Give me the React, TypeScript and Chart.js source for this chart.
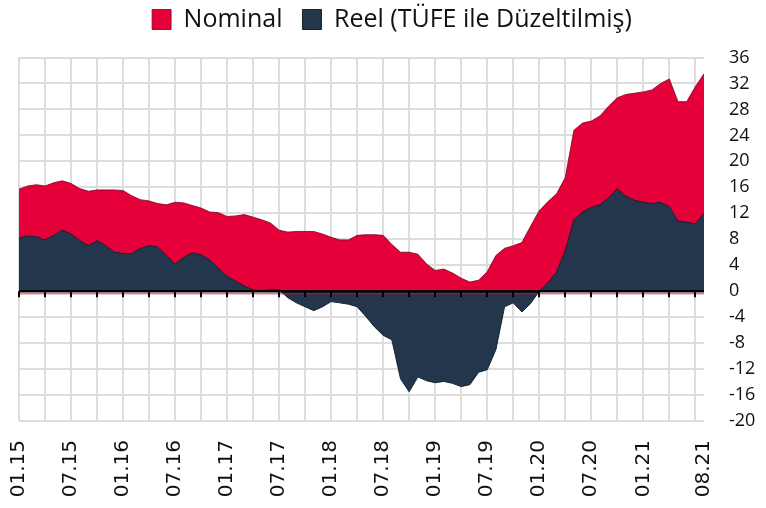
import React, { useEffect, useRef } from "react";
import { Chart, registerables } from "chart.js";

Chart.register(...registerables);

const years = ["15", "16", "17", "18", "19", "20", "21"];
const months = ["01", "02", "03", "04", "05", "06", "07", "08", "09", "10", "11", "12"];
const categories: string[] = [];
for (const yy of years) {
  for (const mm of months) {
    if (yy === "21" && Number(mm) > 8) break;
    categories.push(`${mm}.${yy}`);
  }
}

const nominal = [
  15.7, 16.2, 16.4, 16.2, 16.7, 17.0, 16.6, 15.8, 15.4, 15.6, 15.6, 15.6,
  15.5, 14.7, 14.1, 13.9, 13.5, 13.3, 13.7, 13.6, 13.2, 12.8, 12.2, 12.1,
  11.5, 11.6, 11.8, 11.4, 11.0, 10.5, 9.4, 9.1, 9.2, 9.2, 9.2, 8.8,
  8.3, 7.9, 7.9, 8.6, 8.7, 8.7, 8.6, 7.2, 6.0, 6.0, 5.7, 4.2,
  3.2, 3.4, 2.8, 2.0, 1.4, 1.7, 3.0, 5.5, 6.6, 7.0, 7.5, 10.0,
  12.4, 13.8, 15.0, 17.5, 24.8, 25.9, 26.2, 27.0, 28.5, 29.8, 30.3, 30.5,
  30.7, 31.0, 32.0, 32.7, 29.2, 29.2, 31.5, 33.5,
];

const reel = [
  8.2, 8.5, 8.4, 7.9, 8.6, 9.4, 8.8, 7.8, 7.0, 7.8, 7.0, 6.0,
  5.8, 5.8, 6.6, 7.0, 6.8, 5.5, 4.2, 5.2, 5.9, 5.6, 4.8, 3.5,
  2.3, 1.5, 0.8, 0.2, 0.1, 0.2, 0.2, -1.0, -1.8, -2.4, -3.0, -2.4,
  -1.6, -1.8, -2.0, -2.4, -3.9, -5.5, -6.8, -7.5, -13.5, -15.5, -13.2, -13.8,
  -14.1, -13.9, -14.2, -14.7, -14.4, -12.5, -12.1, -9.0, -2.4, -1.8, -3.2, -1.9,
  0.0, 1.3, 3.0, 6.3, 11.0, 12.2, 12.9, 13.3, 14.4, 15.8, 14.6, 14.0,
  13.7, 13.5, 13.7, 13.0, 10.8, 10.6, 10.4, 12.0,
];

const seriesNames = ["Nominal", "Reel (TÜFE ile Düzeltilmiş)"];
const yMin = -20;
const yMax = 36;
const yStep = 4;

const RED = "#e5003a";
const NAVY = "#23364b";

const zeroLinePlugin = {
  id: "zeroLine",
  afterDatasetsDraw(chart: any) {
    const { ctx, chartArea, scales } = chart;
    const x = scales.x;
    const y = scales.y;
    const y0 = y.getPixelForValue(0);
    ctx.save();
    ctx.strokeStyle = "rgba(229,0,58,0.55)";
    ctx.lineWidth = 1.5;
    ctx.beginPath();
    ctx.moveTo(chartArea.left, y0 + 2.5);
    ctx.lineTo(chartArea.right, y0 + 2.5);
    ctx.stroke();
    ctx.strokeStyle = "#000";
    ctx.lineWidth = 2.5;
    ctx.beginPath();
    ctx.moveTo(chartArea.left, y0);
    ctx.lineTo(chartArea.right, y0);
    ctx.stroke();
    ctx.lineWidth = 2;
    for (let i = 0; i < categories.length; i += 3) {
      const px = Math.round(x.getPixelForValue(i));
      ctx.beginPath();
      ctx.moveTo(px, y0);
      ctx.lineTo(px, y0 + 6);
      ctx.stroke();
    }
    ctx.restore();
  },
};

export default function App() {
  const canvasRef = useRef<HTMLCanvasElement | null>(null);

  useEffect(() => {
    if (!canvasRef.current) return;
    const chart = new Chart(canvasRef.current, {
      type: "line",
      data: {
        labels: categories,
        datasets: [
          {
            label: seriesNames[0],
            data: nominal,
            backgroundColor: RED,
            borderColor: "rgba(120,0,30,0.8)",
            borderWidth: 1,
            fill: "origin",
            pointRadius: 0,
            tension: 0,
            order: 1,
          },
          {
            label: seriesNames[1],
            data: reel,
            backgroundColor: NAVY,
            borderColor: "#16242f",
            borderWidth: 1,
            fill: "origin",
            pointRadius: 0,
            tension: 0,
            order: 0,
          },
        ],
      },
      options: {
        responsive: false,
        animation: false,
        layout: { padding: { left: 18, right: 0, top: -13, bottom: 0 } },
        plugins: {
          tooltip: { enabled: false },
          legend: {
            display: true,
            position: "top",
            labels: {
              boxWidth: 19,
              boxHeight: 20,
              padding: 20,
              color: "#111",
              font: { family: "'Open Sans'", size: 25 },
              sort: (a: any, b: any) => a.datasetIndex - b.datasetIndex,
            },
          },
        },
        scales: {
          x: {
            type: "category",
            offset: false,
            border: { display: false },
            grid: {
              drawTicks: false,
              lineWidth: 2,
              color: (ctx: any) => (ctx.index % 3 === 0 ? "#dcdcdc" : "rgba(0,0,0,0)"),
            },
            ticks: {
              autoSkip: false,
              minRotation: 90,
              maxRotation: 90,
              padding: 19,
              color: "#111",
              font: { family: "'DejaVu Sans'", size: 20 },
              callback: (_v: any, idx: number) =>
                (idx % 6 === 0 && idx <= 72) || idx === categories.length - 1 ? categories[idx] : "",
            },
            afterFit: (s: any) => {
              s.height = 87;
            },
          },
          xTop: {
            type: "category",
            position: "top",
            display: true,
            border: { display: false },
            grid: { display: false, drawTicks: false },
            ticks: { display: false },
            afterFit: (s: any) => {
              s.height = 15.5;
            },
          },
          y: {
            position: "right",
            min: yMin,
            max: yMax,
            border: { display: false },
            grid: { drawTicks: false, lineWidth: 2, color: "#dcdcdc" },
            ticks: {
              stepSize: yStep,
              padding: 25,
              color: "#111",
              font: { family: "'Open Sans'", size: 18 },
            },
            afterFit: (s: any) => {
              s.width = 62;
            },
          },
        },
      },
      plugins: [zeroLinePlugin],
    });
    return () => chart.destroy();
  }, []);

  return (
    <div style={{ position: "absolute", left: 0, top: 0, width: 766, height: 508, background: "#fff" }}>
      <canvas ref={canvasRef} width={766} height={508} />
    </div>
  );
}
